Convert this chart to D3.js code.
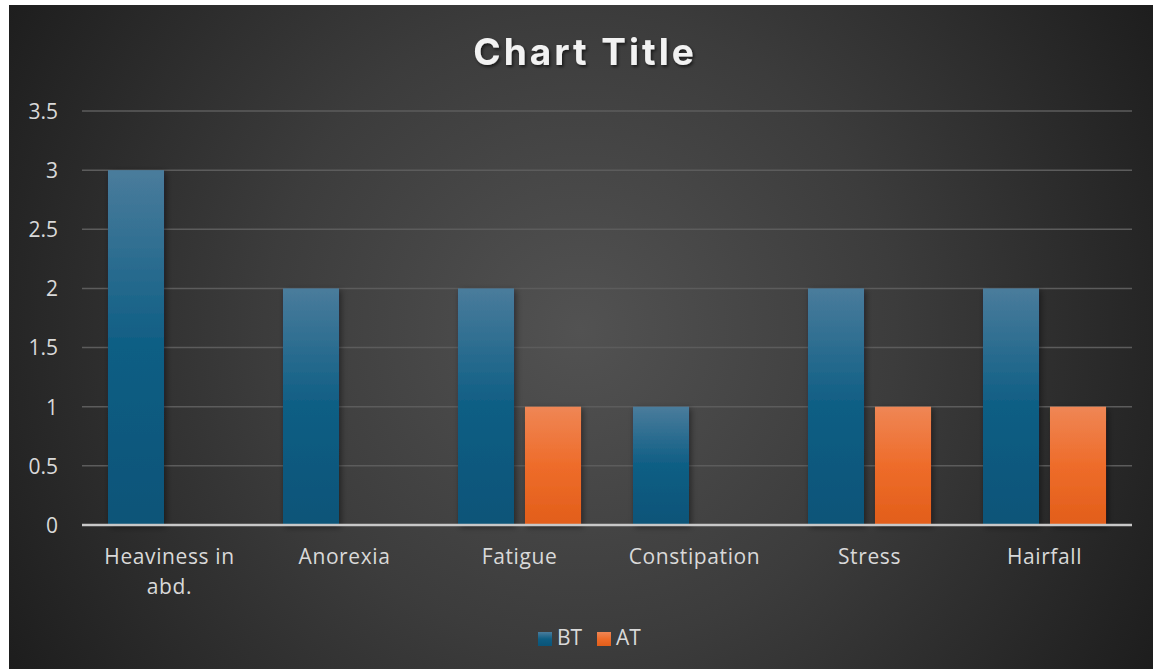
<!DOCTYPE html>
<html><head><meta charset="utf-8">
<script src="https://cdn.jsdelivr.net/npm/d3@7"></script>
<style>html,body{margin:0;padding:0;background:#fff;}svg{display:block;}</style>
</head><body>
<svg id="c" width="1153" height="669"></svg>
<script>
const categories = ["Heaviness in abd.", "Anorexia", "Fatigue", "Constipation", "Stress", "Hairfall"];
const seriesNames = ["BT", "AT"];
const btValues = [3, 2, 2, 1, 2, 2];
const atValues = [0, 0, 1, 0, 1, 1];
const yTicks = [0, 0.5, 1, 1.5, 2, 2.5, 3, 3.5];
const titleText = "Chart Title";

const FONT = "'Open Sans', 'Liberation Sans', Arial, sans-serif";
const svg = d3.select("#c");
const W = 1153, H = 669;
const defs = svg.append("defs");

const bg = defs.append("radialGradient").attr("id","bg").attr("gradientUnits","userSpaceOnUse")
  .attr("cx",580).attr("cy",330).attr("r",700);
bg.append("stop").attr("offset","0").attr("stop-color","#525252");
bg.append("stop").attr("offset","0.45").attr("stop-color","#3c3c3c");
bg.append("stop").attr("offset","1").attr("stop-color","#1a1a1a");

const gBT = defs.append("linearGradient").attr("id","gBT").attr("x1",0).attr("y1",0).attr("x2",0).attr("y2",1);
gBT.append("stop").attr("offset","0").attr("stop-color","#4a7c9c");
gBT.append("stop").attr("offset","0.5").attr("stop-color","#0e5e84");
gBT.append("stop").attr("offset","1").attr("stop-color","#0a5478");
const gAT = defs.append("linearGradient").attr("id","gAT").attr("x1",0).attr("y1",0).attr("x2",0).attr("y2",1);
gAT.append("stop").attr("offset","0").attr("stop-color","#ef8655");
gAT.append("stop").attr("offset","0.5").attr("stop-color","#ee6c2a");
gAT.append("stop").attr("offset","1").attr("stop-color","#e25e1a");

const sh = defs.append("filter").attr("id","sh").attr("x","-30%").attr("y","-30%").attr("width","160%").attr("height","160%");
sh.append("feDropShadow").attr("dx",2).attr("dy",2).attr("stdDeviation",3).attr("flood-color","#000").attr("flood-opacity",0.45);
const tsh = defs.append("filter").attr("id","tsh");
tsh.append("feDropShadow").attr("dx",1.5).attr("dy",2).attr("stdDeviation",1.5).attr("flood-color","#000").attr("flood-opacity",0.6);

svg.append("rect").attr("x",9).attr("y",5).attr("width",W-9).attr("height",H-5).attr("fill","url(#bg)");

const x0 = d3.scaleBand().domain(categories).range([82,1132]).paddingInner(0.297).paddingOuter(0.1485);
const x1 = d3.scaleBand().domain(seriesNames).range([0,x0.bandwidth()]).paddingInner(0.164);
const y = d3.scaleLinear().domain([0,3.5]).range([525,111]);

// gridlines
svg.append("g").selectAll("line").data(yTicks.filter(d=>d>0)).join("line")
  .attr("x1",82).attr("x2",1132).attr("y1",d=>y(d)).attr("y2",d=>y(d))
  .attr("stroke","#5c5c5c").attr("stroke-width",1.5);

// y axis labels
const yAxis = d3.axisLeft(y).tickValues(yTicks).tickSize(0).tickPadding(0).tickFormat(d=>String(d));
const ya = svg.append("g").attr("transform","translate(58,0)").call(yAxis);
ya.select(".domain").remove();
ya.selectAll("text").attr("fill","#d9d9d9").attr("font-family",FONT).attr("font-size",21).attr("dy","0.35em");

// bars
const data = categories.map((c,i)=>({c, vals:[{s:"BT",v:btValues[i]},{s:"AT",v:atValues[i]}]}));
const g = svg.append("g");
data.forEach(d=>{
  d.vals.forEach(e=>{
    if(e.v<=0) return;
    g.append("rect").attr("x",x0(d.c)+x1(e.s)).attr("y",y(e.v)).attr("width",x1.bandwidth()).attr("height",y(0)-y(e.v))
      .attr("fill",e.s==="BT"?"url(#gBT)":"url(#gAT)").attr("filter","url(#sh)");
  });
});

// x axis
const xAxis = d3.axisBottom(x0).tickSize(0).tickPadding(0);
const xa = svg.append("g").attr("transform","translate(0,525)").call(xAxis);
xa.select(".domain").attr("stroke","#c8c8c8").attr("stroke-width",2.5).attr("d","M82,0H1132");
xa.selectAll("text").remove();
const labels = svg.append("g");
categories.forEach(c=>{
  const cx = x0(c)+x0.bandwidth()/2;
  const words = c==="Heaviness in abd." ? ["Heaviness in","abd."] : [c];
  const t = labels.append("text").attr("x",cx).attr("y",564).attr("text-anchor","middle")
    .attr("fill","#d9d9d9").attr("font-family",FONT).attr("font-size",21).attr("letter-spacing",0.6);
  words.forEach((w,i)=>t.append("tspan").attr("x",cx).attr("dy",i?30:0).text(w));
});

// title
svg.append("text").attr("x",585).attr("y",65).attr("text-anchor","middle")
  .attr("fill","#f2f2f2").attr("font-family","Inter, 'Open Sans', sans-serif").attr("font-weight",700)
  .attr("font-size",37).attr("letter-spacing",3).attr("filter","url(#tsh)").text(titleText);

// legend
const leg = svg.append("g");
const legItems = [{n:"BT",f:"url(#gBT)",x:538},{n:"AT",f:"url(#gAT)",x:597}];
legItems.forEach(l=>{
  leg.append("rect").attr("x",l.x).attr("y",632).attr("width",14).attr("height",14).attr("fill",l.f);
  leg.append("text").attr("x",l.x+19).attr("y",645).attr("fill","#d9d9d9")
    .attr("font-family",FONT).attr("font-size",21).text(l.n);
});
</script>
</body></html>
